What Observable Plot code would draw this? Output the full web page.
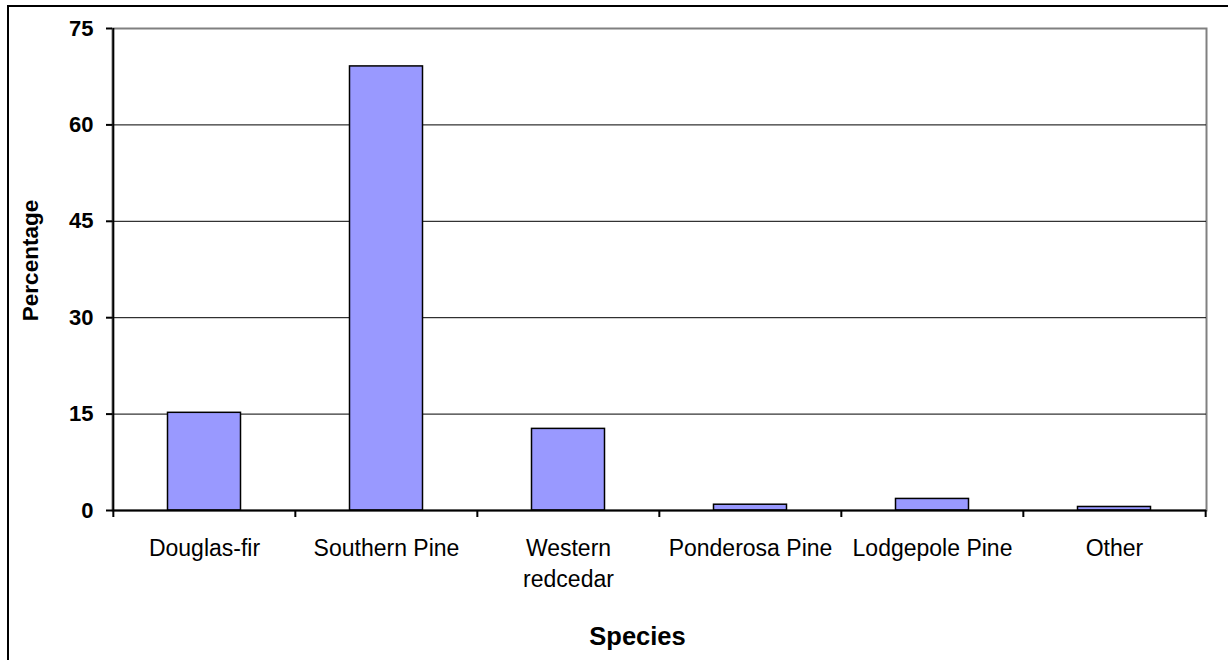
<!DOCTYPE html>
<html>
<head>
<meta charset="utf-8">
<script src="https://cdn.jsdelivr.net/npm/d3@7"></script>
<script src="https://cdn.jsdelivr.net/npm/@observablehq/plot@0.6"></script>
<style>
  html, body { margin: 0; padding: 0; background: #fff; width: 1228px; height: 660px; overflow: hidden; }
  #frame { position: absolute; left: 7px; top: 5px; width: 1240px; height: 700px; border: 2px solid #000; box-sizing: border-box; }
  #chart { position: absolute; left: 0; top: 0; }
  #chart svg { overflow: visible; background: transparent; }
</style>
</head>
<body>
<div id="frame"></div>
<div id="chart"></div>
<script>
const categories = ["Douglas-fir", "Southern Pine", "Western redcedar", "Ponderosa Pine", "Lodgepole Pine", "Other"];
const categoryLabels = ["Douglas-fir", "Southern Pine", "Western\nredcedar", "Ponderosa Pine", "Lodgepole Pine", "Other"];
const percentages = [15.2, 69.1, 12.7, 0.9, 1.8, 0.55];
const yTicks = [0, 15, 30, 45, 60, 75];
const gridTicks = [15, 30, 45, 60];
const xTitle = "Species";
const yTitle = "Percentage";

const data = categories.map((c, i) => ({species: c, value: percentages[i]}));
const labelOf = new Map(categories.map((c, i) => [c, categoryLabels[i]]));

const W = 1228, H = 660;
const mL = 112, mR = 22, mT = 28, mB = 150;
const half = (W - mL - mR) / categories.length / 2;
const font = "Arial, 'Liberation Sans', sans-serif";

const chart = Plot.plot({
  width: W,
  height: H,
  marginLeft: mL,
  marginRight: mR,
  marginTop: mT,
  marginBottom: mB,
  style: {fontFamily: font, color: "#000", background: "transparent"},
  x: {domain: categories, padding: 0},
  y: {domain: [0, 75]},
  marks: [
    Plot.frame({stroke: "#808080", strokeWidth: 2}),
    Plot.gridY(gridTicks, {stroke: "#000", strokeOpacity: 1, strokeWidth: 1}),
    Plot.barY(data, {x: "species", y: "value", fill: "#9999FF", stroke: "#000", strokeWidth: 1.5, insetLeft: 54.5, insetRight: 54.5}),
    Plot.ruleY([0], {stroke: "#000", strokeWidth: 2}),
    Plot.ruleX([categories[0]], {x: d => d, dx: -half, stroke: "#000", strokeWidth: 2}),
    Plot.axisY({ticks: yTicks, tickSize: 6, tickPadding: 13, strokeWidth: 2, fontSize: 22, fontWeight: "bold", label: null}),
    Plot.axisX({tickSize: 0, tickPadding: 23, fontSize: 23, lineHeight: 1.35, tickFormat: d => labelOf.get(d), label: null}),
    Plot.axisX({tickSize: 7, strokeWidth: 2, dx: -half, tickFormat: () => "", label: null}),
    Plot.axisX([categories[categories.length - 1]], {tickSize: 7, strokeWidth: 2, dx: half, tickFormat: () => "", label: null}),
    Plot.text([yTitle], {text: d => d, frameAnchor: "left", textAnchor: "middle", dx: -82, dy: -9, rotate: -90, fontSize: 22.5, fontWeight: "bold"}),
    Plot.text([xTitle], {text: d => d, frameAnchor: "bottom", dx: -22, dy: 134, fontSize: 25.5, fontWeight: "bold"})
  ]
});
document.getElementById("chart").append(chart);
</script>
</body>
</html>
